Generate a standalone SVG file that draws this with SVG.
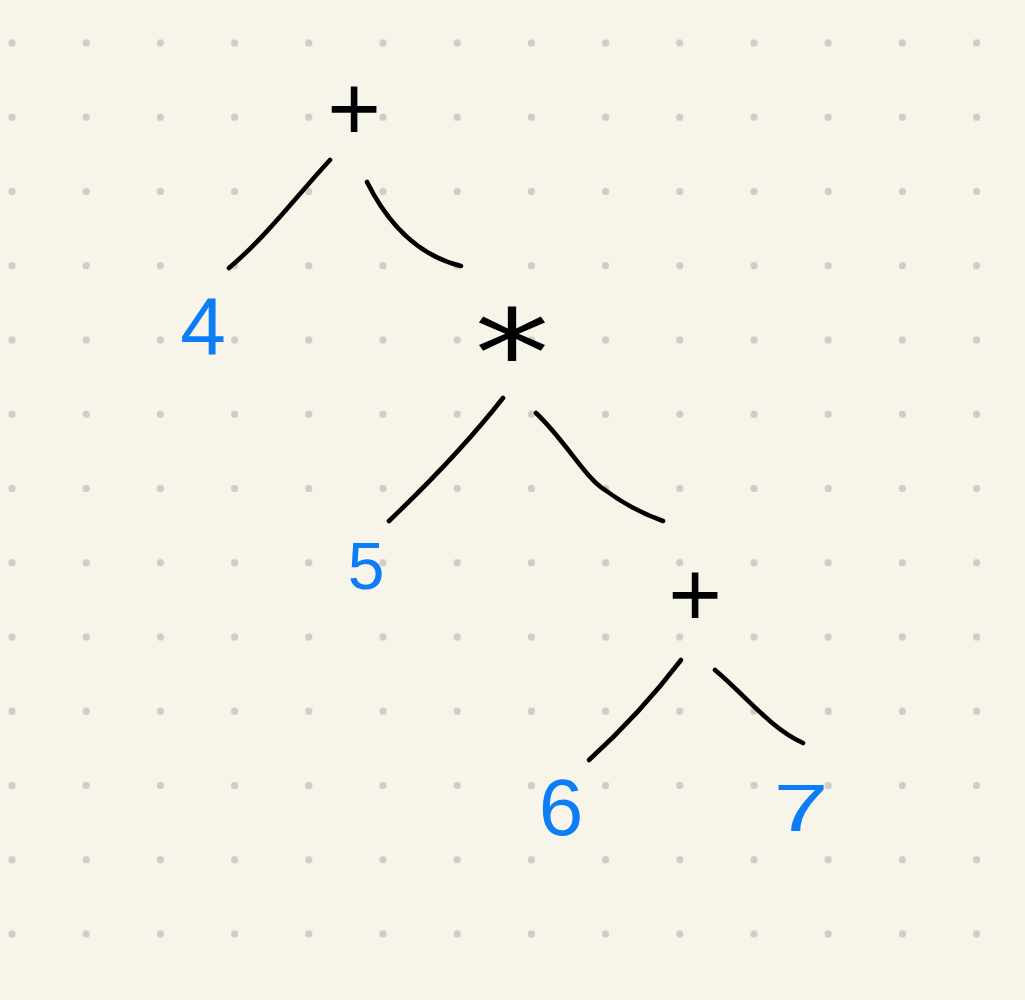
<svg xmlns="http://www.w3.org/2000/svg" width="1025" height="1000" viewBox="0 0 1025 1000">
<defs>
<pattern id="dots" x="-25.1" y="5.9" width="74.2" height="74.25" patternUnits="userSpaceOnUse">
<circle cx="37.1" cy="37.1" r="3.6" fill="#d0cec4"/>
</pattern>
<style>
.op{font-family:"Liberation Sans",Arial,sans-serif;fill:#000;text-anchor:middle}
.num{font-family:"Liberation Sans",Arial,sans-serif;fill:#0d7cf7;text-anchor:middle}
.edge{fill:none;stroke:#000;stroke-width:4.6;stroke-linecap:round;stroke-linejoin:round}
</style>
</defs>
<rect width="1025" height="1000" fill="#f7f5ea"/>
<rect width="1025" height="1000" fill="url(#dots)"/>
<g id="connectors">
<path class="edge" d="M330,160 C300,192 268,235 229,268"/>
<path class="edge" d="M367,182 C390,228 420,256 461,266"/>
<path class="edge" d="M503,398 C470,440 432,480 389,521"/>
<path class="edge" d="M536,413 C565,440 585,478 605,490 Q632,510 663,521"/>
<path class="edge" d="M681,660 C652,698 622,730 589,760"/>
<path class="edge" d="M715,670 C745,695 770,728 803,743"/>
</g>
<g id="n-plus1"><text class="op" x="354" y="140" font-size="92">+</text></g>
<g id="n-times"><text class="op" x="0" y="0" font-size="150" style="font-family:'DejaVu Sans',sans-serif" transform="translate(512,395) scale(1,0.8)">*</text></g>
<g id="n-4"><text class="num" x="203" y="355" font-size="82">4</text></g>
<g id="n-5"><text class="num" x="366" y="589" font-size="66">5</text></g>
<g id="n-plus2"><text class="op" x="695" y="626" font-size="92">+</text></g>
<g id="n-6"><text class="num" x="561" y="835" font-size="80">6</text></g>
<g id="n-7"><text class="num" x="0" y="0" font-size="66" transform="translate(801,831) scale(1.5,1)">7</text></g>
</svg>
